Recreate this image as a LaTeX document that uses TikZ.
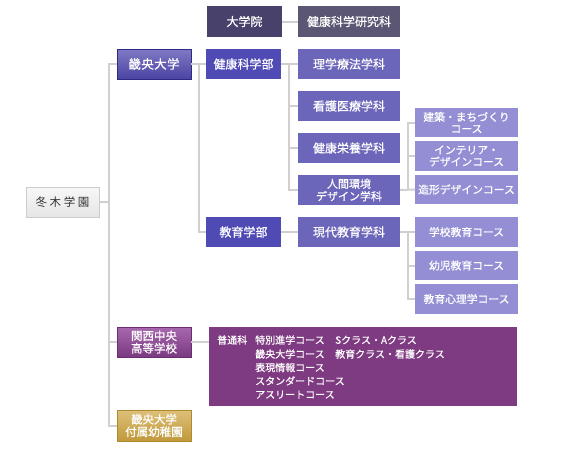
\documentclass[tikz,border=0pt]{standalone}
\usepackage{fontspec}
\setmainfont{Noto Sans CJK JP}
\usetikzlibrary{calc}
\definecolor{lineg}{HTML}{D0D0D0}
\definecolor{gradc}{HTML}{47416B}
\definecolor{gradlabc}{HTML}{5B5673}
\definecolor{facc}{HTML}{4F4AB4}
\definecolor{depc}{HTML}{6B66B9}
\definecolor{coursec}{HTML}{948FD4}
\definecolor{hsboxc}{HTML}{7F3B82}
\definecolor{HTMLa}{HTML}{7F79C4}
\definecolor{HTMLb}{HTML}{4B44A2}
\definecolor{HTMLbd}{HTML}{2F2B84}
\definecolor{HSa}{HTML}{A868AE}
\definecolor{HSb}{HTML}{7A3A81}
\definecolor{HSbd}{HTML}{6A2D72}
\definecolor{KGa}{HTML}{DEC07A}
\definecolor{KGb}{HTML}{C0993A}
\definecolor{KGbd}{HTML}{B08A30}
\newcommand{\bigfnt}{\fontsize{12}{13.5}\selectfont\addfontfeature{FakeBold=0.6}}
\newcommand{\midfnt}{\fontsize{11}{12.5}\selectfont\addfontfeature{FakeBold=0.6}}
\newcommand{\smlfnt}{\fontsize{10.8}{11.8}\selectfont\addfontfeature{FakeBold=0.6}}
\newcommand{\txtfnt}{\fontsize{10}{12}\selectfont\addfontfeature{FakeBold=0.6}}
\tikzset{
  base/.style={anchor=north west, inner sep=0pt, outer sep=0pt, text=white, align=center},
  rootbox/.style={base, top color=white!97!black, bottom color=white!90!black, draw=black!20, line width=1pt, text=black!80,
    font=\fontsize{11.5}{13}\selectfont\addfontfeature{LetterSpace=22}},
  gradbox/.style={base, fill=gradc, font=\bigfnt},
  gradlabbox/.style={base, fill=gradlabc, font=\bigfnt},
  univbox/.style={base, top color=HTMLa, bottom color=HTMLb, draw=HTMLbd, line width=1pt, font=\fontsize{12.5}{14}\selectfont\addfontfeature{FakeBold=0.6,LetterSpace=3}},
  facbox/.style={base, fill=facc, font=\bigfnt},
  depbox/.style={base, fill=depc, font=\bigfnt},
  depbox2/.style={base, fill=depc, font=\midfnt},
  coursebox/.style={base, fill=coursec, font=\smlfnt},
  hsbox/.style={base, top color=HSa, bottom color=HSb, draw=HSbd, line width=1pt, font=\fontsize{11.5}{12.5}\selectfont\addfontfeature{FakeBold=0.6}},
  kgbox/.style={base, top color=KGa, bottom color=KGb, draw=KGbd, line width=1pt, font=\fontsize{11.5}{12.5}\selectfont\addfontfeature{FakeBold=0.6}},
  bigbox/.style={base, fill=hsboxc},
  linetxt/.style={anchor=west, inner sep=0pt, text=white, font=\txtfnt, text height=8.8pt, text depth=1.2pt},
  conn/.style={draw=lineg, line width=2pt},
}
\begin{document}
\begin{tikzpicture}[x=1pt,y=-1pt]
\useasboundingbox (0,0) rectangle (561,455);
% boxes
\node[rootbox, minimum width=73pt, minimum height=30pt] (root) at (26,187) {冬木学園};
\node[gradbox, minimum width=75pt, minimum height=31pt] (grad) at (207,6) {大学院};
\node[gradlabbox, minimum width=102pt, minimum height=31pt] (gradlab) at (298,6) {健康科学研究科};
\node[univbox, minimum width=74pt, minimum height=30pt] (kio) at (117,49) {畿央大学};
\node[facbox, minimum width=75pt, minimum height=30pt] (fac1) at (206,49) {健康科学部};
\node[facbox, minimum width=75pt, minimum height=30pt] (fac2) at (206,217) {教育学部};
\node[depbox, minimum width=102pt, minimum height=30pt] (dep1) at (298,49) {理学療法学科};
\node[depbox, minimum width=102pt, minimum height=30pt] (dep2) at (298,91) {看護医療学科};
\node[depbox, minimum width=102pt, minimum height=30pt] (dep3) at (298,133) {健康栄養学科};
\node[depbox2, minimum width=102pt, minimum height=30pt] (dep4) at (298,175) {人間環境\\デザイン学科};
\node[depbox, minimum width=102pt, minimum height=30pt] (dep5) at (298,217) {現代教育学科};
\node[coursebox, minimum width=103pt, minimum height=29pt] (c1) at (415,108) {建築・まちづくり\\コース};
\node[coursebox, minimum width=103pt, minimum height=30pt] (c2) at (415,141) {インテリア・\\デザインコース};
\node[coursebox, minimum width=103pt, minimum height=29pt] (c3) at (415,175) {造形デザインコース};
\node[coursebox, minimum width=103pt, minimum height=30pt] (c4) at (415,217) {学校教育コース};
\node[coursebox, minimum width=103pt, minimum height=29pt] (c5) at (415,251) {幼児教育コース};
\node[coursebox, minimum width=103pt, minimum height=30pt] (c6) at (415,284) {教育心理学コース};
\node[hsbox, minimum width=74pt, minimum height=30pt] (hs) at (117,327) {関西中央\\高等学校};
\node[bigbox, minimum width=308pt, minimum height=79pt] (hsb) at (209,327) {};
\node[kgbox, minimum width=74pt, minimum height=31pt] (kg) at (117,410) {畿央大学\\付属幼稚園};
% text in big box
\node[linetxt] (t0) at (217,340) {普通科};
\node[linetxt] (t1) at (255,340) {特別進学コース};
\node[linetxt] (t1b) at (335,340) {Sクラス・Aクラス};
\node[linetxt] (t2) at (255,354) {畿央大学コース};
\node[linetxt] (t2b) at (335,354) {教育クラス・看護クラス};
\node[linetxt] (t3) at (255,367.5) {表現情報コース};
\node[linetxt] (t4) at (255,381) {スタンダードコース};
\node[linetxt] (t5) at (255,394.5) {アスリートコース};
% junction coordinates
\coordinate (j0) at (109,0);
\coordinate (j1) at (199,0);
\coordinate (j2) at (289,0);
\coordinate (j3) at (408,0);
% connectors
\draw[conn] (root.east) -- (root.east -| j0);
\draw[conn] (kio.west) -- (kio.west -| j0) -- (kg.west -| j0) -- (kg.west);
\draw[conn] (hs.west) -- (hs.west -| j0);
\draw[conn] (hs.east) -- (hsb.west |- hs.east);
\draw[conn] (grad.east) -- (gradlab.west);
\draw[conn] (kio.east) -- (fac1.west);
\draw[conn] (kio.east -| j1) -- (fac2.west -| j1) -- (fac2.west);
\draw[conn] (fac1.east) -- (dep1.west);
\draw[conn] (fac1.east -| j2) -- (dep4.west -| j2) -- (dep4.west);
\draw[conn] (dep2.west) -- (dep2.west -| j2);
\draw[conn] (dep3.west) -- (dep3.west -| j2);
\draw[conn] (fac2.east) -- (dep5.west);
\draw[conn] (dep4.east) -- (c3.west);
\draw[conn] (c1.west) -- (c1.west -| j3) -- (c3.west -| j3);
\draw[conn] (c2.west) -- (c2.west -| j3);
\draw[conn] (dep5.east) -- (c4.west);
\draw[conn] (c4.west -| j3) -- (c6.west -| j3) -- (c6.west);
\draw[conn] (c5.west) -- (c5.west -| j3);
\end{tikzpicture}
\end{document}
